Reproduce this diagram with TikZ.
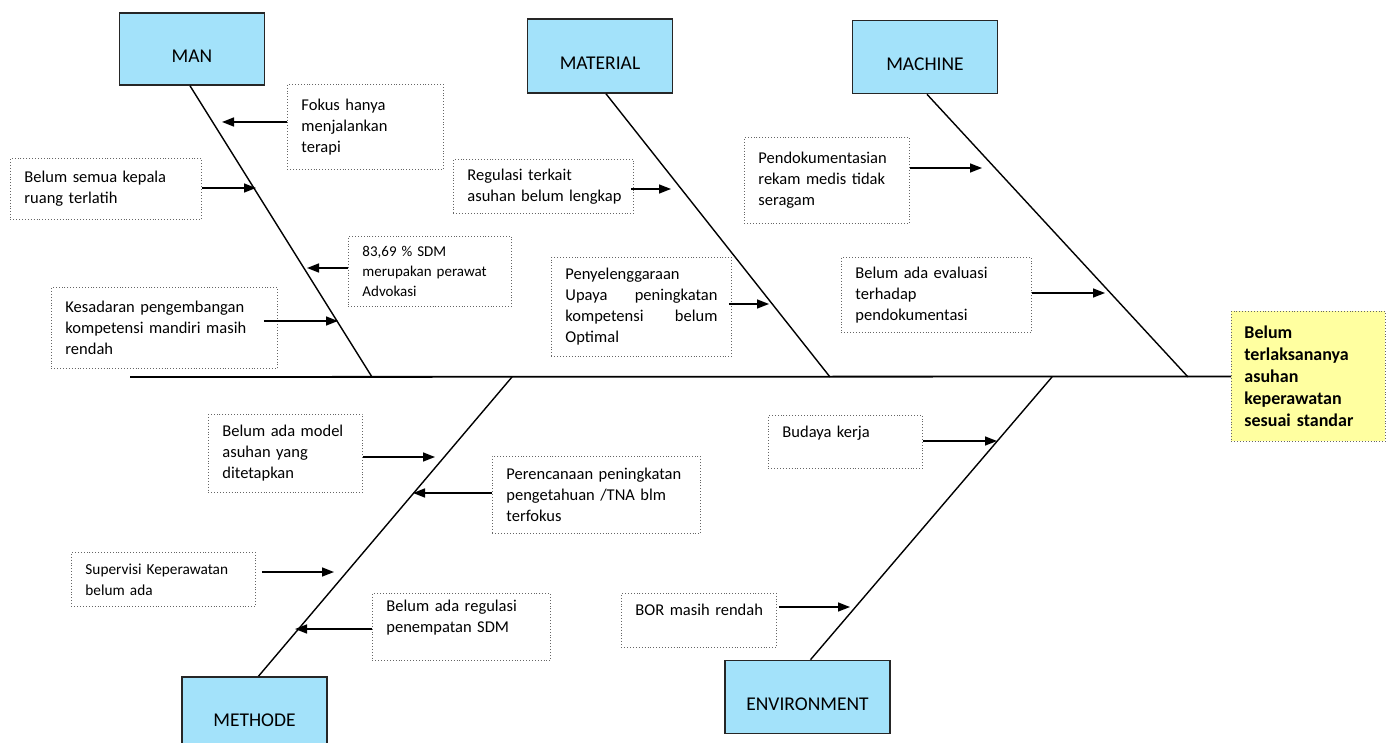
\documentclass[tikz,border=0pt]{standalone}
\usepackage{fontspec}
\setmainfont{Carlito}
\usetikzlibrary{arrows.meta}
\definecolor{catblue}{RGB}{163,226,250}
\definecolor{effyellow}{RGB}{255,255,160}
\newcommand\tightsp{\spaceskip=0.17em plus 0.1em minus 0.05em\relax\hyphenpenalty=10000\relax\hbadness=10000\relax\hfuzz=20pt\relax}
\begin{document}
\begin{tikzpicture}[x=1pt,y=-1pt,
  cat/.style={draw=black!85, line width=1.6pt, fill=catblue, minimum width=145pt,
    inner sep=0pt, font=\fontsize{19.5}{23}\selectfont, text height=31pt, text depth=4pt},
  cause/.style={draw=black!60, dotted, line width=0.9pt, align=left, anchor=north west,
    inner xsep=14pt, inner ysep=3pt, font=\fontsize{16.5}{21}\selectfont\tightsp},
  bone/.style={line width=1.4pt, black},
  arr/.style={line width=1.6pt, -{Triangle[length=12pt,width=9pt]}},
]
\useasboundingbox (0,0) rectangle (1389,743);
\clip (0,0) rectangle (1389,743);

% category boxes
\node[cat, minimum height=72pt] (man) at (192,49) {MAN};
\node[cat, minimum height=74pt] (mat) at (600,56) {MATERIAL};
\node[cat, minimum height=73pt] (mac) at (925,57) {MACHINE};
\node[cat, minimum height=72pt] (met) at (254.5,713) {METHODE};
\node[cat, minimum width=165pt, minimum height=73pt] (env) at (807.5,697) {ENVIRONMENT};

% effect
\node[draw=black!60, dotted, line width=0.9pt, fill=effyellow, anchor=north west,
  minimum width=154pt, minimum height=130pt, text width=128pt, inner xsep=13pt,
  align=left, font=\fontsize{18}{22}\selectfont\bfseries\tightsp] (eff) at (1231,311)
  {Belum\\terlaksananya\\asuhan\\keperawatan\\sesuai standar};

% spine and bones
\coordinate (tail) at (130,377);
\coordinate (manfoot) at (372,377);
\coordinate (matfoot) at (830,377);
\coordinate (macfoot) at (1188,377);
\coordinate (metfoot) at (512,377);
\coordinate (envfoot) at (1052,377);
\draw[line width=1.8pt] (tail) -- (eff.west);
\draw[bone] ([xshift=-2pt]man.south) -- (manfoot);
\draw[bone] ([xshift=6pt]mat.south) -- (matfoot);
\draw[bone] ([xshift=2pt]mac.south) -- (macfoot);
\draw[bone] (metfoot) -- ([xshift=4pt]met.north);
\draw[bone] (envfoot) -- ([xshift=3pt]env.north);

% cause boxes
\node[cause, text width=128pt, minimum height=85pt] (fokus) at (287,84)
  {Fokus hanya\\menjalankan\\terapi};
\node[cause, text width=163pt, minimum height=61pt] (kepala) at (10,158)
  {Belum semua kepala\\ruang terlatih};
\node[cause, text width=135pt, minimum height=70pt, font=\fontsize{15}{20}\selectfont\tightsp] (sdm) at (348,236)
  {83,69 \% SDM\\merupakan perawat\\Advokasi};
\node[cause, text width=198pt, minimum height=81pt] (kesadaran) at (51,287)
  {Kesadaran pengembangan\\kompetensi mandiri masih\\rendah};
\node[cause, text width=152pt, minimum height=54pt] (regulasi) at (453,159)
  {Regulasi terkait\\asuhan~belum~lengkap};
\node[cause, text width=152pt, minimum height=99pt] (penyel) at (551,257)
  {Penyelenggaraan\\Upaya \hfill peningkatan\\kompetensi \hfill belum\\Optimal};
\node[cause, text width=137pt, minimum height=86pt] (pendok) at (744,137)
  {Pendokumentasian\\rekam medis tidak\\seragam};
\node[cause, text width=162pt, minimum height=75pt] (evaluasi) at (841,257)
  {Belum ada evaluasi\\terhadap\\pendokumentasi};
\node[cause, text width=126pt, minimum height=53pt] (budaya) at (768,415)
  {Budaya kerja\\\mbox{}};
\node[cause, text width=126pt, minimum height=78pt] (model) at (208,414)
  {Belum ada model\\asuhan yang\\ditetapkan};
\node[cause, text width=180pt, minimum height=77pt] (rencana) at (492,456)
  {Perencanaan peningkatan\\pengetahuan /TNA blm\\terfokus};
\node[cause, text width=156pt, minimum height=54pt, font=\fontsize{15.3}{21}\selectfont\tightsp] (supervisi) at (71,552)
  {Supervisi Keperawatan\\belum ada};
\node[cause, text width=150pt, minimum height=67pt] (regsdm) at (372,593)
  {Belum ada regulasi\\penempatan SDM\\\mbox{}};
\node[cause, text width=127pt, minimum height=54pt] (bor) at (621,593)
  {BOR~masih~rendah\\\mbox{}};

% arrow tips on the bones
\coordinate (t1) at (222,122);
\coordinate (t2) at (256,188);
\coordinate (t3) at (307,268);
\coordinate (t4) at (338,321);
\coordinate (t5) at (671,189);
\coordinate (t6) at (769,304);
\coordinate (t7) at (982,168);
\coordinate (t8) at (1105,293);
\coordinate (t9) at (997,441);
\coordinate (t10) at (435,457);
\coordinate (t11) at (413,493);
\coordinate (t12) at (334,572);
\coordinate (t13) at (295,629);
\coordinate (t14) at (850,607);

\draw[arr] (fokus.west |- t1) -- (t1);
\draw[arr] (kepala.east |- t2) -- (t2);
\draw[arr] (sdm.west |- t3) -- (t3);
\draw[arr] ([xshift=-14pt]kesadaran.east |- t4) -- (t4);
\draw[arr] ([xshift=-3pt]regulasi.east |- t5) -- (t5);
\draw[arr] ([xshift=-3pt]penyel.east |- t6) -- (t6);
\draw[arr] (pendok.east |- t7) -- (t7);
\draw[arr] (evaluasi.east |- t8) -- (t8);
\draw[arr] (budaya.east |- t9) -- (t9);
\draw[arr] (model.east |- t10) -- (t10);
\draw[arr] (rencana.west |- t11) -- (t11);
\draw[arr] ([xshift=6pt]supervisi.east |- t12) -- (t12);
\draw[arr] (regsdm.west |- t13) -- (t13);
\draw[arr] ([xshift=2pt]bor.east |- t14) -- (t14);
\end{tikzpicture}
\end{document}
